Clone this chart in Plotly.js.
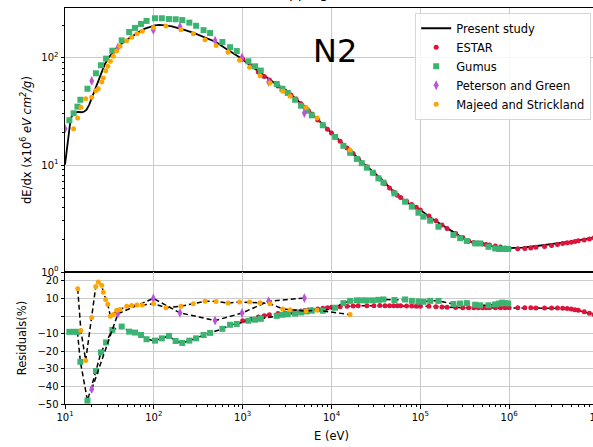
<!DOCTYPE html>
<html>
<head>
<meta charset="utf-8">
<script src="https://cdn.plot.ly/plotly-3.0.1.min.js"></script>
<style>
html, body { margin:0; padding:0; overflow:hidden; background:white; }
#chart { width:600px; height:447px; }
</style>
</head>
<body>
<div id="chart"></div>
<script>
// ---- Present study (continuous curve) ----
const presentE = [10, 10.4, 10.9, 11.3, 11.7, 12.3, 12.96, 14, 15.4, 16.5, 17.5, 18.7, 20, 21.3, 22.75, 24.3, 25.9, 28, 30.7, 35, 39.8, 47, 56.6, 67, 79.4, 90, 103, 115, 134, 160, 189, 230, 290, 380, 500, 650, 950, 1200, 1600, 2400, 3890, 6000, 9640, 15000, 23900, 35000, 54300, 75000, 1e5, 1.4e5, 2e5, 2.7e5, 3.64e5, 4.7e5, 6.5e5, 9.8e5, 1.4e6, 2.05e6, 3e6, 4.86e6, 7e6, 1e7];
const presentS = [10.1, 14, 17.9, 23, 27.5, 30, 31.1, 31.3, 31.1, 31.6, 32.9, 36.5, 42.3, 49, 56.3, 65, 75.1, 87, 100, 114, 128.6, 143, 159.5, 174, 188, 196, 202, 203.5, 202, 197, 190.6, 181, 170, 156, 141, 122, 100, 86, 72, 57, 42.3, 30, 20.5, 14.5, 10, 7.6, 5.25, 4.35, 3.8, 3.1, 2.56, 2.2, 1.92, 1.84, 1.74, 1.67, 1.69, 1.75, 1.82, 1.92, 2.02, 2.14];

// ---- ESTAR ----
const estarE = [1000,1250,1500,1750,2000,2500,3000,3500,4000,4500,5000,5500,6000,7000,8000,9000,
  10000,12500,15000,17500,20000,25000,30000,35000,40000,45000,50000,55000,60000,70000,80000,90000,
  1e5,1.25e5,1.5e5,1.75e5,2e5,2.5e5,3e5,3.5e5,4e5,4.5e5,5e5,5.5e5,6e5,7e5,8e5,9e5,
  1e6,1.25e6,1.5e6,1.75e6,2e6,2.5e6,3e6,3.5e6,4e6,4.5e6,5e6,5.5e6,6e6,7e6,8e6,9e6,1e7];
const estarS = [97.7,84,74,67.3,62.2,54.7,49.2,45,41.3,37.6,34.6,32.1,29.9,26.4,23.8,21.6,
  19.9,16.7,14.4,12.8,11.5,9.64,8.36,7.41,6.67,6.08,5.6,5.22,4.98,4.59,4.28,4.02,
  3.8,3.34,3.01,2.75,2.55,2.29,2.1,1.95,1.89,1.86,1.83,1.81,1.79,1.75,1.71,1.68,
  1.66,1.65,1.66,1.68,1.70,1.73,1.77,1.81,1.85,1.88,1.90,1.93,1.96,1.99,2.04,2.08,2.12];
const estarRes = [-2.7,-1.8,-0.6,0.2,0.7,1.4,1.7,2.2,2.5,2.8,3.1,3.4,3.6,4.0,4.4,4.7,
  5.0,5.3,5.6,5.7,5.8,5.8,5.8,5.9,5.8,5.8,5.8,5.8,5.8,5.7,5.7,5.6,
  5.6,5.5,5.3,5.1,5.0,4.8,4.7,4.7,4.7,4.7,4.7,4.7,4.7,4.7,4.7,4.7,
  4.7,4.7,4.7,4.7,4.6,4.6,4.6,4.5,4.4,4.2,4.0,3.6,3.2,2.4,1.6,0.8,0.2];

// ---- Gumus ----
const gumusE = [11.2,12.5,13.8,14.9,17.9,22.3,25.4,29.0,34.1,43.5,52.8,61.4,71.8,82.8,103,123,148,176,209,251,
  299,363,430,591,721,858,1160,1380,1600,2420,2800,3220,3890,4550,5270,6000,7980,10980,13610,16200,
  19270,21940,24980,29180,33750,38420,51090,67440,80220,95200,108400,128960,159900,235900,280700,333900,414200,471500,584800,695600,
  771700,834100,901600,974400];
const gumusS = [26.2,30.4,35.1,40.7,51.6,71.9,85.5,98.6,117,146,175,191,208,222,235,235,231,230,226,214,
  200,182,171,141,126,116,93,83.6,76.2,57.1,51.6,47.1,40.7,35.8,32.2,29.1,23.5,18.3,15.1,13.0,
  11.4,10.4,9.44,8.47,7.51,6.84,5.43,4.54,4.08,3.58,3.29,3.02,2.65,2.22,2.07,1.95,1.85,1.85,1.72,1.66,
  1.64,1.64,1.64,1.64];
const gumusRes = [-9.0,-9.0,-9.0,-26,-48.1,-31.3,-20.7,-15,-7.9,-6,-8.9,-9.4,-10.8,-13.2,-14,-12.7,-11.3,-14.2,-15.3,-14,
  -12.7,-10.8,-9.6,-7.3,-5.0,-4.5,-2.7,-2.1,-1.6,0.1,0.7,1.0,1.4,2.0,2.6,3.0,3.0,4.7,7.3,8.6,
  8.9,8.9,8.9,8.9,9.2,9.4,9.1,9.4,8.6,8.3,8.1,8.6,8.6,6.8,7.1,7.3,6.4,6.1,6.1,6.6,
  7.1,7.6,7.3,7.1];

// ---- Peterson and Green ----
const petersonE = [10, 20.0, 39.4, 98.7, 197, 489, 984, 1960, 4950];
const petersonS = [21.8, 61, 125, 183, 196, 145, 101, 59.7, 30.6];
const petersonRes = [null, -41.6, 1.3, 10, 1.8, -2.6, 1.7, 8.4, 10.2];

// ---- Majeed and Strickland ----
const majeedE = [12.5,13.9,15.1,17.1,20.0,22.2,23.7,25.9,27.0,28.7,30.3,32.4,35.0,38.2,41.6,49.5,56.4,64.7,74.2,99.3,
  137,202,278,377,502,685,923,1196,1571,2036,2831,3422,5180,6890,16180];
const majeedS = [21.8,27.5,34.6,41.7,43,49.5,51.6,59.7,65,76,83.6,93,104,116,129,145,156,168,178,193,
  199,184,168,148,131,113,95,82,68.4,58.4,48.9,44,34.5,27.5,13.8];
const majeedRes = [null,15.5,-8.3,-25.3,-0.8,16.7,19.3,17.5,13.5,9.4,6.7,-0.1,0.9,3.3,3.7,5.6,6.0,6.2,6.2,7.0,
  4.7,5.6,7.0,8.4,8.3,7.4,7.9,7.9,7.5,7.0,4.0,3.6,2.8,3.3,0.8];

// ---- Tick labels ----
const xTickVals = [10, 100, 1000, 10000, 100000, 1000000, 10000000];
const xTickText = ['10<sup>1</sup>','10<sup>2</sup>','10<sup>3</sup>','10<sup>4</sup>','10<sup>5</sup>','10<sup>6</sup>','10<sup>7</sup>'];
const yTickVals = [1, 10, 100];
const yTickText = ['10<sup>0</sup>','10<sup>1</sup>','10<sup>2</sup>'];
const rTickVals = [20, 10, 0, -10, -20, -30, -40, -50];
const rTickText = ['20','10','','\u221210','\u221220','\u221230','\u221240','\u221250'];

function minorLog(lo, hi) {
  const out = [];
  for (let p = lo; p < hi; p++) for (let k = 2; k <= 9; k++) out.push(k * Math.pow(10, p));
  return out;
}

const colors = {estar:'#DC143C', gumus:'#3CB371', peterson:'#BA55D3', majeed:'#FFA500'};
const dashLine = {color:'black', width:1.5, dash:'5px,3px'};

const traces = [
  {x:presentE, y:presentS, mode:'lines', name:'Present study', line:{color:'black', width:1.8}, xaxis:'x', yaxis:'y'},
  {x:estarE, y:estarS, mode:'markers', name:'ESTAR', marker:{color:colors.estar, size:5}, xaxis:'x', yaxis:'y'},
  {x:gumusE, y:gumusS, mode:'markers', name:'Gumus', marker:{color:colors.gumus, size:6, symbol:'square'}, xaxis:'x', yaxis:'y'},
  {x:petersonE, y:petersonS, mode:'markers', name:'Peterson and Green', marker:{color:colors.peterson, size:7, symbol:'diamond-tall'}, xaxis:'x', yaxis:'y'},
  {x:majeedE, y:majeedS, mode:'markers', name:'Majeed and Strickland', marker:{color:colors.majeed, size:5}, xaxis:'x', yaxis:'y'},

  {x:estarE, y:estarRes, mode:'lines+markers', showlegend:false, line:dashLine, marker:{color:colors.estar, size:5}, xaxis:'x2', yaxis:'y2'},
  {x:gumusE, y:gumusRes, mode:'lines+markers', showlegend:false, line:dashLine, marker:{color:colors.gumus, size:6, symbol:'square'}, xaxis:'x2', yaxis:'y2'},
  {x:petersonE, y:petersonRes, mode:'lines+markers', showlegend:false, line:dashLine, marker:{color:colors.peterson, size:7, symbol:'diamond-tall'}, xaxis:'x2', yaxis:'y2'},
  {x:majeedE, y:majeedRes, mode:'lines+markers', showlegend:false, line:dashLine, marker:{color:colors.majeed, size:5}, xaxis:'x2', yaxis:'y2'}
];

const gridc = '#cbcbcb';
const layout = {
  width: 600, height: 447,
  margin: {l:65, r:2, t:8, b:43},
  paper_bgcolor:'white', plot_bgcolor:'white',
  font: {family:'DejaVu Sans', size:10, color:'black'},
  showlegend: true,
  legend: {x:0.657, y:0.988, xanchor:'left', yanchor:'top', bgcolor:'rgba(255,255,255,0.85)',
           bordercolor:'#d6d6d6', borderwidth:1, font:{size:11.5}, itemwidth:30, tracegroupgap:0},
  xaxis: {type:'log', range:[1,7], domain:[0,1], anchor:'y', showticklabels:false, ticks:'',
          showgrid:true, gridcolor:gridc, gridwidth:1, showline:true, linecolor:'black', linewidth:1, mirror:true, zeroline:false},
  yaxis: {type:'log', range:[0,2.467], domain:[0.3333,1], anchor:'x',
          tickmode:'array', tickvals:yTickVals, ticktext:yTickText, ticks:'outside', ticklen:3.5, tickcolor:'black',
          minor:{tickmode:'array', tickvals:minorLog(0,3), ticks:'outside', ticklen:2, tickcolor:'black', showgrid:false},
          showgrid:true, gridcolor:gridc, showline:true, linecolor:'black', linewidth:1, mirror:true, zeroline:false,
          title:{text:'dE/dx (x10<sup>6</sup> <i>eV cm<sup>2</sup>/g</i>)', font:{size:11.5}, standoff:7}},
  xaxis2: {type:'log', range:[1,7], domain:[0,1], anchor:'y2', ticklabeloverflow:'allow',
           tickmode:'array', tickvals:xTickVals, ticktext:xTickText, ticks:'outside', ticklen:3.5, tickcolor:'black',
           minor:{tickmode:'array', tickvals:minorLog(1,7), ticks:'outside', ticklen:2, tickcolor:'black', showgrid:false},
           showgrid:true, gridcolor:gridc, showline:true, linecolor:'black', linewidth:1, mirror:true, zeroline:false,
           title:{text:'E (eV)', font:{size:11.5}, standoff:10}},
  yaxis2: {range:[-50,25], domain:[0,0.3333], anchor:'x2',
           tickmode:'array', tickvals:rTickVals, ticktext:rTickText, ticks:'outside', ticklen:3.5, tickcolor:'black',
           showgrid:true, gridcolor:gridc, showline:true, linecolor:'black', linewidth:1, mirror:true, zeroline:false,
           title:{text:'Residuals(%)', font:{size:11.5}, standoff:8}},
  annotations: [
    {text:'N2', xref:'paper', yref:'paper', x:0.5066, y:0.891, xanchor:'center', yanchor:'middle', showarrow:false,
     font:{size:32, color:'black'}},
    {text:'Stopping Power', xref:'paper', yref:'paper', x:0.373, y:1, xanchor:'left', yanchor:'bottom', yshift:5, showarrow:false,
     font:{size:14, color:'black'}}
  ]
};

Plotly.newPlot('chart', traces, layout, {displayModeBar:false, staticPlot:true});
</script>
</body>
</html>
